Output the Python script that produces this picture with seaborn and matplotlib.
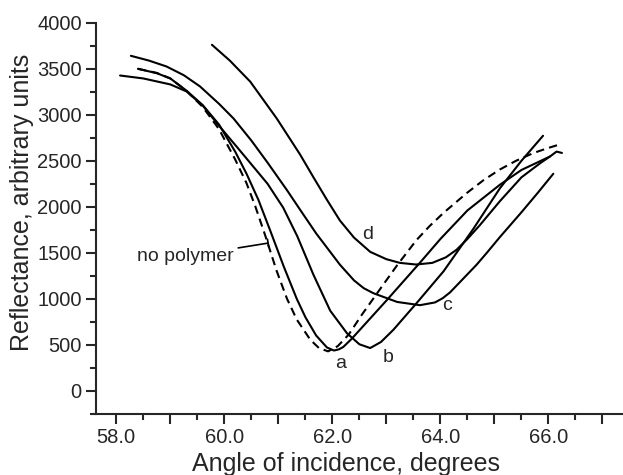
import numpy as np
import pandas as pd
import seaborn as sns
import matplotlib.pyplot as plt
from matplotlib.ticker import MultipleLocator, FuncFormatter

# angle (deg) / reflectance
no_poly_x = [58.40, 58.75, 59.00, 59.30, 59.60, 59.90, 60.20, 60.41, 60.57, 60.75, 60.97, 61.16, 61.34, 61.59, 61.75, 61.92, 62.10, 62.30, 62.55, 62.94, 63.20, 63.56, 63.80, 64.06, 64.49, 64.80, 65.10, 65.40, 65.72, 66.00, 66.25]
no_poly_y = [3500, 3455, 3395, 3260, 3085, 2845, 2515, 2257, 2010, 1700, 1300, 1000, 775, 555, 465, 428, 485, 609, 830, 1152, 1365, 1640, 1790, 1935, 2150, 2290, 2405, 2500, 2584, 2640, 2685]

a_x = [58.40, 58.75, 59.00, 59.30, 59.60, 59.90, 60.20, 60.41, 60.63, 60.85, 61.10, 61.34, 61.50, 61.70, 61.90, 62.03, 62.12, 62.20, 62.35, 62.51, 63.00, 63.62, 64.00, 64.50, 65.10, 65.50, 66.03]
a_y = [3500, 3452, 3395, 3262, 3105, 2895, 2600, 2360, 2076, 1740, 1350, 1000, 800, 600, 470, 437, 450, 475, 560, 663, 980, 1391, 1650, 1960, 2239, 2400, 2547]

b_x = [58.07, 58.50, 59.00, 59.30, 59.60, 59.86, 60.29, 60.80, 61.09, 61.35, 61.65, 61.96, 62.27, 62.50, 62.70, 62.90, 63.13, 63.56, 64.06, 64.61, 65.10, 65.50, 65.90]
b_y = [3427, 3395, 3330, 3254, 3100, 2910, 2610, 2250, 1990, 1680, 1260, 870, 625, 505, 464, 530, 663, 953, 1300, 1760, 2200, 2500, 2772]

c_x = [58.27, 58.60, 58.93, 59.25, 59.55, 59.90, 60.17, 60.50, 60.80, 61.16, 61.40, 61.70, 62.14, 62.40, 62.58, 62.76, 63.20, 63.62, 63.90, 64.04, 64.18, 64.67, 64.86, 65.10, 65.50, 65.80, 66.09]
c_y = [3641, 3590, 3525, 3430, 3308, 3120, 2960, 2720, 2480, 2180, 1970, 1710, 1370, 1200, 1115, 1060, 965, 930, 960, 1005, 1070, 1370, 1500, 1670, 1940, 2150, 2359]

d_x = [59.77, 60.10, 60.48, 60.97, 61.40, 61.65, 61.90, 62.14, 62.40, 62.70, 63.00, 63.25, 63.55, 63.85, 64.10, 64.30, 64.50, 64.73, 65.10, 65.50, 65.85, 66.03, 66.15, 66.25]
d_y = [3761, 3590, 3360, 2960, 2570, 2320, 2075, 1850, 1665, 1510, 1430, 1390, 1372, 1390, 1450, 1533, 1650, 1800, 2060, 2320, 2475, 2547, 2600, 2585]

curve_labels = ['a', 'b', 'c', 'd']
label_x = [62.15, 63.03, 64.12, 62.65]
label_y = [300, 360, 924, 1700]

sns.set_style('ticks')
plt.rcParams['font.family'] = ['Liberation Sans', 'DejaVu Sans']

fig = plt.figure(figsize=(6.23, 4.75), dpi=100)
ax = fig.add_axes([0.1546, 0.129, 0.8454, 0.823])

sns.lineplot(x=no_poly_x, y=no_poly_y, ax=ax, color='black', lw=1.5, sort=False,
             estimator=None, linestyle=(0, (4.0, 2.5)))
for xs, ys in [(a_x, a_y), (b_x, b_y), (c_x, c_y), (d_x, d_y)]:
    sns.lineplot(x=xs, y=ys, ax=ax, color='black', lw=1.5, sort=False, estimator=None)

for lab, lx, ly in zip(curve_labels, label_x, label_y):
    ax.text(lx, ly, lab, fontsize=14, ha='center', va='center')

ax.annotate('no polymer', xy=(60.81, 1605), xytext=(58.38, 1460), fontsize=14,
            ha='left', va='center',
            arrowprops=dict(arrowstyle='-[, widthB=0.2, lengthB=0', lw=1.2,
                            color='black', shrinkA=1, shrinkB=0))

ax.set_xlim(57.63, 67.38)
ax.set_ylim(-250, 4000)
ax.xaxis.set_major_locator(MultipleLocator(1.0))
ax.xaxis.set_minor_locator(MultipleLocator(0.5))
ax.xaxis.set_major_formatter(FuncFormatter(lambda v, p: '%.1f' % v if round(v) % 2 == 0 else ''))
ax.yaxis.set_major_locator(MultipleLocator(500))
ax.yaxis.set_minor_locator(MultipleLocator(250))

sns.despine(ax=ax)
for s in ['left', 'bottom']:
    ax.spines[s].set_linewidth(1.5)
ax.tick_params(which='major', length=7.5, width=1.5, labelsize=14.5, pad=3, direction='out')
ax.tick_params(which='minor', length=4.5, width=1.5, direction='out')

ax.set_xlabel('Angle of incidence, degrees', fontsize=18)
ax.set_ylabel('Reflectance, arbitrary units', fontsize=18)
ax.xaxis.set_label_coords(0.4737, -0.097)
ax.yaxis.set_label_coords(-0.118, 0.54)

fig.savefig('out.png', dpi=100)
